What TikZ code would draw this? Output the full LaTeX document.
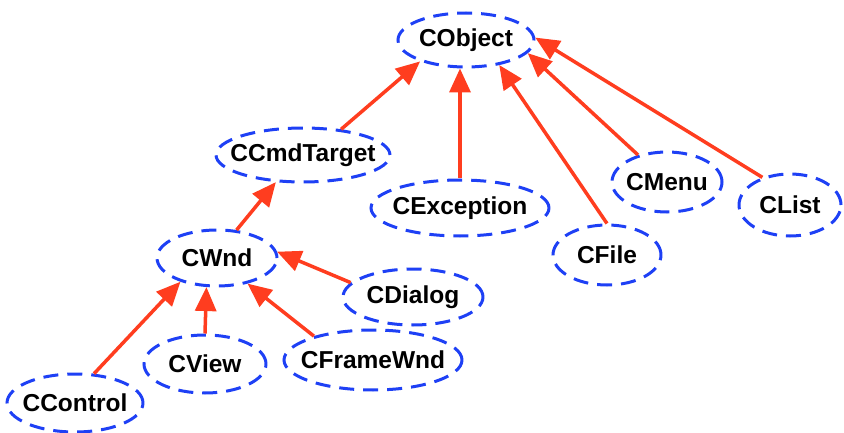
\documentclass[tikz,border=0pt]{standalone}
\usepackage{fontspec}
\setmainfont{Liberation Sans}
\usetikzlibrary{shapes.geometric,arrows.meta}
\definecolor{ellblue}{HTML}{1E40F5}
\definecolor{arrred}{HTML}{FF3D1F}
\tikzset{
  cls/.style={ellipse, draw=ellblue, line width=3pt, dash pattern=on 15pt off 9pt,
    inner xsep=-40pt, inner ysep=-8pt, font=\fontsize{24.5}{27}\selectfont\bfseries, text=black},
  inh/.style={draw=arrred, line width=3.5pt, -{Triangle[length=24pt,width=21pt]}}
}
\begin{document}
\begin{tikzpicture}[x=1pt,y=-1pt]
\useasboundingbox (0,0) rectangle (844,433);
\node[cls, minimum width=136pt, minimum height=54pt] (cobject) at (466,40) {CObject};
\node[cls, minimum width=174pt, minimum height=54pt] (ccmd) at (303,155) {CCmdTarget};
\node[cls, minimum width=178pt, minimum height=56pt] (cexc) at (460,208) {CException};
\node[cls, minimum width=110pt, minimum height=60pt] (cmenu) at (667,182) {CMenu};
\node[cls, minimum width=102pt, minimum height=62pt] (clist) at (790,205) {CList};
\node[cls, minimum width=108pt, minimum height=60pt] (cfile) at (607,255) {CFile};
\node[cls, minimum width=120pt, minimum height=56pt] (cwnd) at (217,258) {CWnd};
\node[cls, minimum width=140pt, minimum height=56pt] (cdialog) at (413,297) {CDialog};
\node[cls, minimum width=122pt, minimum height=58pt] (cview) at (205,364) {CView};
\node[cls, minimum width=178pt, minimum height=60pt] (cframe) at (373,360) {CFrameWnd};
\node[cls, minimum width=136pt, minimum height=58pt] (cctrl) at (75,403) {CControl};

\draw[inh] (ccmd.34) -- (cobject.205);
\draw[inh] (cexc.north) -- (cexc.north |- cobject.south);
\draw[inh] (cfile.north) -- (cobject.323);
\draw[inh] (cmenu.137) -- (cobject.348);
\draw[inh] (clist.135) -- (cobject.2);
\draw[inh] (cwnd.55) -- (ccmd.225);
\draw[inh] (cdialog.167) -- (cwnd.6);
\draw[inh] (cctrl.57) -- (cwnd.213);
\draw[inh] (cview.north) -- (cwnd.250);
\draw[inh] (cframe.158) -- (cwnd.320);
\end{tikzpicture}
\end{document}
